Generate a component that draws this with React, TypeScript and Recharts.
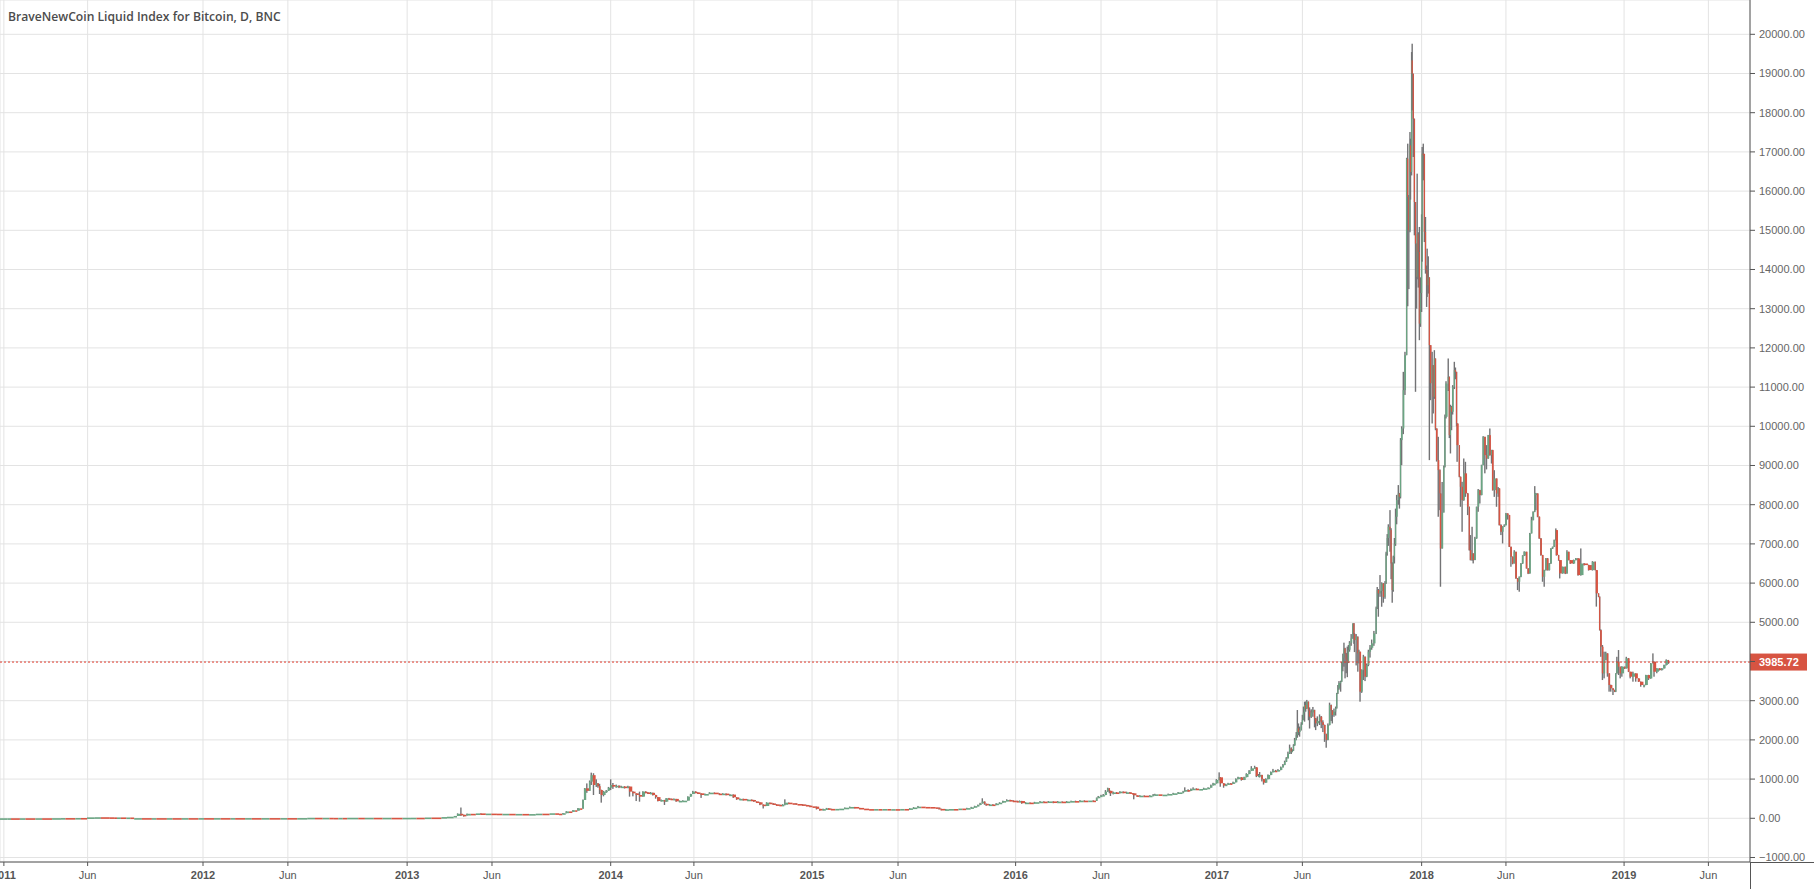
import { Bar, CartesianGrid, ComposedChart, ReferenceLine, XAxis, YAxis } from 'recharts';

const TITLE = 'BraveNewCoin Liquid Index for Bitcoin, D, BNC';
const LAST_PRICE = 3985.72;

// x axis is in daily bars counted from the first of 2011
const tickBars = [0, 151, 359, 512, 727, 880, 1094, 1244, 1457, 1612, 1824, 1978, 2187, 2341, 2556, 2708, 2921, 3073];
const tickLabels = ['2011', 'Jun', '2012', 'Jun', '2013', 'Jun', '2014', 'Jun', '2015', 'Jun', '2016', 'Jun', '2017', 'Jun', '2018', 'Jun', '2019', 'Jun'];
const priceTicks = [-1000, 0, 1000, 2000, 3000, 4000, 5000, 6000, 7000, 8000, 9000, 10000, 11000, 12000, 13000, 14000, 15000, 16000, 17000, 18000, 19000, 20000];

// 2011 to spring 2013: the price is a flat line at this scale, no visible wicks
const calmBars = [
  -7, 8, 14, 30, 40, 58, 70, 88, 104, 112, 130, 140, 151, 165, 176, 192, 200, 205, 212, 222,
  229, 236, 250, 268, 276, 295, 305, 322, 334, 352, 362, 380, 392, 410, 418, 436, 448, 466, 480, 500,
  512, 530, 548, 562, 576, 588, 596, 604, 612, 620, 640, 652, 668, 684, 700, 720, 735, 745, 760, 772,
  790, 800, 812,
];
const calmCloses = [
  0.3, 0.5, 0.4, 0.9, 0.8, 1.1, 0.9, 3, 6, 5, 8, 7, 24, 27, 25, 23, 21, 22, 5, 20,
  4, 4.5, 3.5, 4, 3, 4, 3.5, 4.5, 4, 5, 4.5, 5.5, 5, 5.6, 5, 5.5, 5.2, 5.8, 5.4, 6,
  5.5, 6.5, 13, 12, 12.5, 11, 4, 11, 6, 13, 12, 13, 12, 12.8, 12, 13, 14, 13.5, 20, 19,
  31, 40, 60,
];

// from spring 2013 on, one candle per line group of ten in every array below
const swingBars = [
  818, 824, 829, 835, 843, 852, 860, 870, 880, 890,
  900, 912, 924, 936, 948, 960, 972, 985, 995, 1002,
  1008, 1014, 1020, 1026, 1031, 1035, 1040, 1044, 1047, 1051,
  1056, 1059, 1063, 1068, 1071, 1074, 1077, 1081, 1086, 1090,
  1094, 1098, 1104, 1109, 1113, 1119, 1125, 1128, 1134, 1140,
  1146, 1152, 1157, 1161, 1166, 1170, 1175, 1179, 1185, 1191,
  1194, 1199, 1203, 1208, 1212, 1218, 1224, 1233, 1238, 1242,
  1247, 1251, 1257, 1264, 1272, 1281, 1290, 1296, 1302, 1309,
  1315, 1321, 1327, 1333, 1341, 1348, 1352, 1357, 1363, 1369,
  1375, 1381, 1387, 1393, 1399, 1404, 1408, 1415, 1423, 1428,
  1432, 1440, 1447, 1453, 1459, 1465, 1471, 1477, 1483, 1487,
  1492, 1500, 1507, 1516, 1525, 1534, 1543, 1552, 1561, 1570,
  1578, 1585, 1594, 1601, 1609, 1617, 1625, 1633, 1640, 1648,
  1655, 1663, 1672, 1681, 1686, 1690, 1698, 1705, 1714, 1722,
  1729, 1736, 1744, 1750, 1756, 1760, 1764, 1768, 1771, 1777,
  1783, 1789, 1795, 1801, 1808, 1814, 1820, 1827, 1831, 1835,
  1842, 1850, 1858, 1868, 1875, 1883, 1892, 1900, 1908, 1916,
  1924, 1932, 1940, 1948, 1956, 1964, 1970, 1973, 1978, 1982,
  1986, 1990, 1993, 1995, 2000, 2006, 2012, 2018, 2024, 2030,
  2035, 2037, 2043, 2048, 2056, 2066, 2072, 2075, 2083, 2090,
  2099, 2108, 2117, 2126, 2129, 2135, 2140, 2144, 2150, 2156,
  2163, 2171, 2176, 2180, 2186, 2191, 2193, 2199, 2203, 2207,
  2212, 2216, 2221, 2225, 2231, 2236, 2240, 2245, 2249, 2255,
  2258, 2262, 2264, 2268, 2271, 2275, 2279, 2284, 2288, 2293,
  2297, 2302, 2306, 2309, 2312, 2315, 2318, 2321, 2323, 2325,
  2327, 2330, 2332, 2334, 2336, 2339, 2341, 2343, 2345, 2347,
  2349, 2352, 2354, 2357, 2360, 2363, 2365, 2368, 2372, 2375,
  2378, 2381, 2384, 2387, 2390, 2393, 2395, 2398, 2401, 2403,
  2405, 2407, 2410, 2412, 2414, 2416, 2418, 2420, 2422, 2424,
  2426, 2429, 2432, 2434, 2435, 2438, 2441, 2443, 2445, 2448,
  2451, 2454, 2457, 2460, 2463, 2466, 2470, 2474, 2476, 2478,
  2481, 2484, 2487, 2490, 2492, 2494, 2496, 2499, 2501, 2503,
  2505, 2507, 2509, 2511, 2514, 2516, 2518, 2520, 2523, 2526,
  2529, 2531, 2533, 2535, 2536, 2538, 2539, 2541, 2543, 2545,
  2547, 2548, 2550, 2552, 2554, 2556, 2557, 2559, 2561, 2563,
  2565, 2566, 2568, 2570, 2572, 2575, 2577, 2579, 2581, 2583,
  2586, 2589, 2590, 2593, 2596, 2598, 2600, 2604, 2606, 2608,
  2610, 2612, 2615, 2617, 2619, 2620, 2624, 2626, 2629, 2632,
  2635, 2639, 2642, 2644, 2647, 2649, 2652, 2655, 2658, 2661,
  2664, 2667, 2670, 2673, 2676, 2679, 2682, 2684, 2687, 2691,
  2694, 2696, 2699, 2702, 2705, 2708, 2711, 2714, 2717, 2720,
  2723, 2726, 2729, 2732, 2735, 2738, 2741, 2745, 2748, 2751,
  2754, 2757, 2760, 2762, 2765, 2768, 2771, 2774, 2777, 2780,
  2783, 2786, 2789, 2792, 2795, 2798, 2799, 2803, 2805, 2810,
  2815, 2818, 2821, 2824, 2830, 2834, 2838, 2843, 2849, 2857,
  2864, 2869, 2871, 2875, 2877, 2879, 2882, 2885, 2888, 2891,
  2894, 2897, 2901, 2904, 2906, 2908, 2911, 2914, 2917, 2922,
  2925, 2929, 2932, 2937, 2942, 2947, 2951, 2957, 2960, 2965,
  2969, 2973, 2975, 2980, 2985, 2989, 2993, 2997, 3001,
];
const swingCloses = [
  115, 90, 70, 115, 105, 125, 108, 120, 118, 105,
  115, 100, 112, 96, 108, 118, 112, 128, 118, 108,
  130, 175, 165, 205, 195, 255, 245, 467, 765, 700,
  935, 1100, 850, 892, 820, 722, 594, 680, 705, 780,
  850, 807, 830, 790, 810, 780, 810, 680, 637, 594,
  552, 680, 660, 637, 650, 594, 540, 441, 467, 424,
  510, 500, 484, 495, 433, 445, 450, 552, 620, 680,
  660, 637, 594, 620, 654, 630, 620, 630, 594, 605,
  535, 484, 495, 467, 475, 467, 430, 408, 350, 314,
  399, 380, 356, 345, 331, 345, 399, 385, 382, 365,
  356, 340, 323, 305, 297, 240, 212, 235, 255, 240,
  229, 240, 246, 270, 289, 265, 246, 235, 229, 236,
  230, 237, 228, 234, 229, 238, 232, 254, 275, 297,
  290, 288, 280, 270, 240, 212, 230, 237, 235, 248,
  246, 260, 280, 310, 340, 380, 425, 370, 340, 352,
  340, 375, 399, 440, 467, 450, 441, 430, 440, 385,
  400, 382, 410, 425, 415, 430, 415, 425, 418, 428,
  440, 432, 450, 443, 452, 443, 520, 552, 580, 594,
  680, 765, 700, 637, 660, 640, 680, 650, 662, 645,
  637, 586, 570, 577, 565, 577, 600, 611, 600, 603,
  620, 637, 660, 680, 720, 700, 745, 756, 745, 747,
  765, 781, 840, 892, 977, 1045, 892, 832, 860, 892,
  880, 918, 1000, 1045, 977, 1050, 1130, 1210, 1275, 1300,
  1079, 1090, 1105, 1000, 909, 1000, 1105, 1180, 1215, 1205,
  1232, 1300, 1360, 1440, 1530, 1650, 1785, 1700, 1725, 1860,
  2000, 2120, 2295, 2200, 2250, 2400, 2507, 2700, 2890, 2800,
  2975, 2750, 2592, 2700, 2762, 2550, 2422, 2480, 2592, 2450,
  2380, 2150, 2000, 2380, 2890, 2750, 2635, 2720, 2805, 3187,
  3315, 3450, 3485, 3950, 4100, 4335, 4200, 4050, 3977, 4300,
  4480, 4590, 4972, 4700, 4547, 4632, 4207, 4250, 3230, 3780,
  4120, 3612, 3910, 4250, 4350, 4462, 4717, 5355, 5822, 5737,
  5800, 5992, 5650, 5992, 6757, 7150, 7437, 7352, 6500, 5822,
  6672, 7000, 7692, 8117, 8287, 8202, 9647, 9944, 10922, 11814,
  16827, 15850, 15000, 17167, 16487, 19335, 18995, 17847, 15722, 14660,
  13810, 14900, 14447, 12620, 13400, 14235, 16955, 16950, 14957, 14000,
  13980, 13597, 13800, 12070, 11100, 11560, 10752, 11730, 9945, 9137,
  8882, 8287, 6884, 7800, 8967, 10242, 11092, 11262, 9775, 10497,
  10370, 11007, 11432, 11390, 10072, 9519, 8712, 8457, 8117, 8800,
  8287, 7947, 6842, 6587, 6757, 6587, 7139, 7947, 8372, 8245,
  9009, 9732, 9264, 9180, 9774, 9264, 9392, 8372, 8669, 8287,
  8415, 7479, 7309, 7437, 7480, 7777, 7735, 6927, 6672, 6502,
  6799, 6119, 6034, 6160, 6500, 6700, 6800, 6375, 6247, 7267,
  7607, 7820, 8287, 8287, 7692, 7139, 6714, 6162, 6332, 6630,
  6332, 6500, 6884, 6925, 7097, 7352, 6714, 6587, 6247, 6417,
  6247, 6799, 6587, 6500, 6587, 6630, 6204, 6500, 6460, 6332,
  6544, 6332, 5737, 5652, 4800, 4377, 3697, 4037, 4207, 3697,
  3400, 3315, 3272, 3230, 3697, 3994, 3867, 3697, 3867, 3824,
  4080, 3739, 3612, 3697, 3569, 3485, 3400, 3400, 3654, 3569,
  3952, 3994, 3739, 3824, 3782, 3824, 3910, 4037, 3985.72,
];
const swingHighs = [
  125, 275, 95, 120, 118, 128, 126, 122, 122, 120,
  118, 116, 114, 114, 110, 120, 120, 130, 130, 120,
  135, 180, 178, 210, 208, 262, 258, 480, 770, 890,
  965, 1164, 1150, 994, 900, 880, 730, 700, 720, 800,
  994, 900, 860, 840, 830, 820, 830, 810, 690, 640,
  680, 690, 690, 670, 670, 655, 600, 545, 480, 470,
  515, 520, 505, 505, 495, 455, 460, 560, 625, 700,
  690, 665, 640, 630, 665, 660, 640, 640, 635, 615,
  610, 540, 505, 500, 485, 480, 470, 432, 410, 355,
  410, 402, 385, 360, 350, 360, 484, 402, 395, 385,
  370, 360, 345, 330, 310, 300, 245, 245, 265, 258,
  245, 250, 255, 275, 300, 290, 268, 250, 240, 240,
  240, 242, 240, 238, 238, 242, 242, 258, 285, 315,
  302, 298, 292, 285, 275, 245, 238, 245, 245, 255,
  255, 268, 292, 320, 350, 395, 510, 432, 375, 365,
  360, 385, 410, 450, 485, 475, 460, 450, 455, 445,
  412, 405, 420, 440, 435, 440, 432, 440, 432, 440,
  450, 450, 465, 458, 460, 458, 530, 570, 600, 620,
  720, 780, 770, 705, 680, 670, 690, 685, 680, 670,
  650, 640, 590, 590, 585, 590, 618, 625, 615, 615,
  630, 650, 670, 700, 790, 740, 760, 790, 765, 760,
  780, 790, 860, 905, 1000, 1172, 1050, 895, 880, 905,
  900, 935, 1020, 1060, 1050, 1060, 1150, 1230, 1330, 1340,
  1305, 1130, 1180, 1110, 1005, 1020, 1120, 1195, 1260, 1235,
  1255, 1320, 1385, 1470, 1560, 1700, 1880, 1810, 1760, 1890,
  2050, 2200, 2762, 2420, 2340, 2450, 2640, 2850, 2975, 2980,
  3020, 2980, 2830, 2780, 2840, 2770, 2560, 2600, 2650, 2610,
  2500, 2390, 2160, 2420, 2950, 2900, 2760, 2800, 2850, 3200,
  3400, 3500, 3510, 3990, 4200, 4480, 4350, 4220, 4380, 4420,
  4520, 4700, 4972, 4980, 4720, 4700, 4640, 4300, 4250, 3800,
  4170, 4130, 3950, 4300, 4420, 4560, 4780, 5400, 5900, 5850,
  6205, 6020, 6000, 6050, 6800, 7250, 7500, 7862, 7400, 6530,
  6700, 7150, 7900, 8250, 8500, 8300, 9700, 10000, 11389, 11900,
  16850, 17210, 15900, 17507, 17337, 19547, 19760, 18978, 17847, 15720,
  14650, 16445, 14950, 15085, 13800, 15408, 17125, 17210, 16950, 15340,
  14100, 14532, 14337, 13800, 12070, 11900, 11560, 11942, 11730, 9945,
  9732, 8900, 8290, 8580, 9000, 10300, 11150, 11730, 11270, 10550,
  10520, 11050, 11645, 11500, 11390, 10080, 9519, 8720, 8584, 9179,
  9094, 8300, 7950, 7225, 7437, 6760, 7180, 7950, 8400, 8380,
  9020, 9749, 9560, 9520, 9780, 9944, 9400, 9400, 8880, 8630,
  8450, 8420, 7500, 7450, 7500, 7790, 7780, 7740, 6930, 6680,
  6840, 6800, 6130, 6170, 6510, 6710, 6810, 6800, 6380, 7280,
  7692, 7830, 8474, 8300, 8290, 7700, 7150, 6720, 6340, 6640,
  6640, 6510, 6890, 6930, 7110, 7395, 7352, 6720, 6590, 6420,
  6420, 6840, 6800, 6590, 6600, 6640, 6640, 6884, 6510, 6470,
  6560, 6550, 6335, 5740, 5660, 4820, 4420, 4250, 4250, 4210,
  3700, 3410, 3320, 3280, 3700, 4120, 4292, 3870, 3880, 3870,
  4120, 4090, 3740, 3740, 3700, 3570, 3490, 3410, 3660, 3660,
  3960, 4207, 4000, 3830, 3830, 3830, 3920, 4054, 4040,
];
const swingLows = [
  110, 60, 45, 70, 100, 105, 100, 105, 112, 100,
  104, 96, 98, 92, 94, 106, 110, 110, 115, 105,
  108, 128, 160, 165, 190, 195, 240, 245, 480, 650,
  700, 850, 594, 800, 780, 620, 399, 560, 650, 700,
  720, 750, 780, 770, 780, 760, 770, 552, 560, 440,
  424, 550, 640, 620, 620, 580, 500, 430, 430, 340,
  420, 480, 470, 470, 420, 425, 430, 450, 552, 620,
  640, 620, 520, 590, 620, 620, 600, 610, 585, 570,
  520, 470, 470, 455, 455, 450, 420, 395, 335, 250,
  312, 370, 345, 325, 320, 325, 330, 370, 370, 350,
  345, 325, 315, 295, 285, 225, 195, 205, 232, 225,
  215, 225, 235, 245, 265, 255, 235, 228, 222, 224,
  225, 225, 222, 225, 222, 225, 228, 230, 250, 272,
  280, 280, 270, 262, 225, 205, 205, 225, 225, 230,
  240, 240, 258, 275, 305, 335, 375, 345, 320, 330,
  325, 335, 370, 395, 435, 435, 425, 415, 425, 370,
  380, 370, 378, 405, 405, 410, 385, 410, 405, 412,
  420, 422, 428, 430, 435, 430, 443, 515, 550, 570,
  590, 675, 640, 569, 610, 620, 635, 640, 645, 635,
  625, 484, 555, 560, 555, 560, 572, 595, 590, 590,
  600, 620, 630, 655, 680, 680, 695, 730, 735, 735,
  742, 760, 780, 835, 885, 970, 805, 780, 830, 855,
  870, 875, 915, 995, 960, 975, 1045, 1125, 1205, 1270,
  1050, 1060, 1040, 940, 860, 905, 995, 1100, 1170, 1190,
  1200, 1225, 1295, 1355, 1435, 1525, 1640, 1640, 1690, 1720,
  1850, 1990, 2055, 2120, 2082, 2240, 2390, 2500, 2465, 2720,
  2790, 2500, 2290, 2560, 2590, 2320, 2250, 2350, 2380, 2300,
  2200, 1950, 1800, 1990, 2370, 2480, 2420, 2590, 2620, 2800,
  3170, 3280, 3230, 3480, 3750, 3867, 3570, 3700, 3600, 3960,
  4250, 4400, 4580, 4450, 4240, 3900, 3740, 3950, 2975, 3200,
  3527, 3500, 3600, 3880, 4100, 4300, 4400, 4700, 5340, 5142,
  5650, 5397, 5500, 5600, 5980, 6700, 6950, 6800, 6100, 5499,
  5780, 6500, 6950, 7500, 8000, 7900, 8160, 9010, 9800, 10800,
  11814, 13062, 13500, 14950, 15782, 16400, 18060, 16870, 14872, 10880,
  13000, 13750, 13538, 12197, 12537, 12917, 14200, 16275, 14700, 13895,
  13045, 13300, 13385, 9137, 10667, 10072, 10327, 10700, 9900, 9100,
  7692, 7860, 5907, 6880, 7800, 8950, 10200, 10900, 9700, 9307,
  9900, 10300, 10950, 11200, 10000, 9094, 8700, 7947, 7309, 8100,
  8200, 7735, 6830, 6580, 6570, 6502, 6590, 7130, 7820, 8030,
  8240, 9050, 8800, 8900, 9170, 9250, 9050, 8360, 8200, 7947,
  8200, 7470, 7225, 7012, 7430, 7470, 7620, 6920, 6417, 6480,
  6500, 6110, 5822, 5780, 6150, 6490, 6690, 6370, 6230, 6240,
  7267, 7600, 7810, 7860, 7680, 7130, 6700, 6034, 5907, 6320,
  6320, 6320, 6490, 6870, 6920, 7090, 6700, 6570, 6119, 6240,
  6230, 6240, 6580, 6490, 6490, 6580, 6190, 6190, 6450, 6320,
  6320, 6325, 5400, 5640, 4790, 4120, 3527, 3570, 4030, 3612,
  3230, 3230, 3145, 3220, 3220, 3690, 3655, 3570, 3612, 3810,
  3820, 3730, 3570, 3485, 3485, 3480, 3357, 3340, 3395, 3527,
  3560, 3950, 3612, 3700, 3770, 3770, 3820, 3900, 3940,
];

const CHART_W = 1814;
const CHART_H = 889;
const AXIS_W = 64;
const AXIS_H = 27;
const BAR_DOMAIN = [-7, 3148];
const PRICE_DOMAIN = [-1115, 20875];
const PX_PER_BAR = (CHART_W - AXIS_W) / (BAR_DOMAIN[1] - BAR_DOMAIN[0]);
const PX_PER_USD = (CHART_H - AXIS_H) / (PRICE_DOMAIN[1] - PRICE_DOMAIN[0]);

const UP = '#6ba583';
const DOWN = '#d75442';
const WICK = '#737375';
const GRID = '#e3e3e3';
const AXIS = '#555';
const FONT = '"Liberation Sans", Arial, sans-serif';

// every open is the previous close, which is how the chart steps anyway
const allBars = [...calmBars, ...swingBars];
const allCloses = [...calmCloses, ...swingCloses];
const candles = allBars.map((bar, i) => {
  const close = allCloses[i];
  const open = i === 0 ? close : allCloses[i - 1];
  const s = i - calmBars.length;
  const high = s >= 0 ? Math.max(swingHighs[s], open, close) : Math.max(open, close);
  const low = s >= 0 ? Math.min(swingLows[s], open, close) : Math.min(open, close);
  const gap = i < allBars.length - 1 ? allBars[i + 1] - bar : 1;
  return { bar, open, high, low, close, gap };
});

function Candle(props: any) {
  const { x, y, width, payload } = props;
  const cx = x + width / 2;
  const top = y + (payload.high - Math.max(payload.open, payload.close)) * PX_PER_USD;
  const bodyH = Math.abs(payload.close - payload.open) * PX_PER_USD;
  const wickH = (payload.high - payload.low) * PX_PER_USD;
  const bodyW = Math.max(1.2, payload.gap * PX_PER_BAR);
  return (
    <g>
      {wickH > 1 && <rect x={cx - 0.7} y={y} width={1.4} height={wickH} fill={WICK} />}
      <rect
        x={cx - 0.6}
        y={top}
        width={bodyW}
        height={Math.max(1.6, bodyH)}
        fill={payload.close >= payload.open ? UP : DOWN}
      />
    </g>
  );
}

function TimeTick(props: any) {
  const { x, y, index } = props;
  const label = tickLabels[index];
  const isYear = label !== 'Jun';
  return (
    <text x={x} y={y + 11} textAnchor="middle" fontFamily={FONT} fontSize={11} fontWeight={isYear ? 700 : 400} fill="#555">
      {label}
    </text>
  );
}

function PriceTag(props: any) {
  const { viewBox } = props;
  const right = viewBox.x + viewBox.width;
  return (
    <g>
      <rect x={right} y={viewBox.y - 8.5} width={57} height={17} fill={DOWN} />
      <text x={right + 9} y={viewBox.y + 4} fontFamily={FONT} fontSize={11} fontWeight={700} fill="#fff">
        {LAST_PRICE.toFixed(2)}
      </text>
    </g>
  );
}

// the price tag sits where the nearest round label would be, so that label is dropped
const priceLabel = (v: number) =>
  Math.abs(v - LAST_PRICE) < 100 ? '' : v.toFixed(2).replace('-', '\u2212');

export default function App() {
  return (
    <div style={{ position: 'absolute', left: 0, top: 0, width: CHART_W, height: CHART_H, overflow: 'hidden', background: '#fff' }}>
      <ComposedChart width={CHART_W} height={CHART_H} data={candles} margin={{ top: 0, right: 0, bottom: 0, left: 0 }}>
        <CartesianGrid stroke={GRID} strokeWidth={1} />
        <XAxis
          dataKey="bar"
          type="number"
          domain={BAR_DOMAIN}
          ticks={tickBars}
          interval={0}
          allowDataOverflow
          height={AXIS_H}
          tick={<TimeTick />}
          tickSize={4}
          stroke={AXIS}
        />
        <YAxis
          orientation="right"
          type="number"
          domain={PRICE_DOMAIN}
          ticks={priceTicks}
          interval={0}
          allowDataOverflow
          width={AXIS_W}
          tickSize={5}
          tickMargin={4}
          stroke={AXIS}
          tick={{ fontFamily: FONT, fontSize: 11, fill: '#666' }}
          tickFormatter={priceLabel}
        />
        <ReferenceLine y={LAST_PRICE} stroke="#e0392b" strokeDasharray="2 2" label={PriceTag} />
        <Bar dataKey={(d: any) => [d.low, d.high]} barSize={1} shape={Candle} isAnimationActive={false} />
      </ComposedChart>
      <div style={{ position: 'absolute', left: 1750, top: 862, width: 1, height: 27, background: AXIS }} />
      <div style={{ position: 'absolute', left: 1750, top: 862, width: 64, height: 1, background: AXIS }} />
      <div style={{ position: 'absolute', left: 8, top: 8, fontFamily: '"Open Sans", sans-serif', fontSize: 12.15, fontWeight: 600, color: '#4c4c4c', whiteSpace: 'nowrap' }}>
        {TITLE}
      </div>
    </div>
  );
}
